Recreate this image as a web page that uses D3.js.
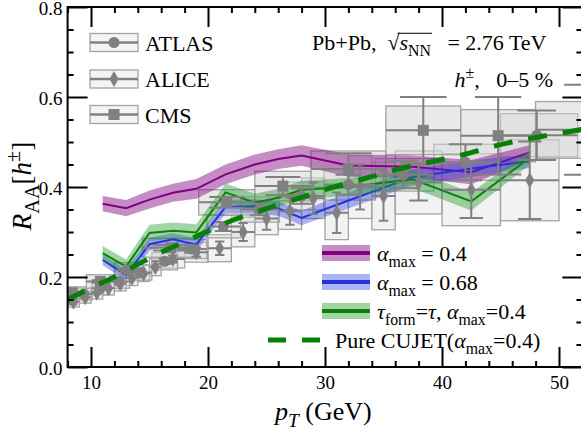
<!DOCTYPE html>
<html><head><meta charset="utf-8">
<script src="https://cdn.jsdelivr.net/npm/d3@7"></script>
<style>
body{margin:0;background:#fff;}
svg{display:block;font-family:"Liberation Serif","Times New Roman",serif;}
</style></head><body><div id="chart"></div>
<script>
// ---------- axes ----------
const xDomain = [8, 52];
const yDomain = [0, 0.8];
const xMajor = [10, 20, 30, 40, 50];
const yMajor = [0, 0.2, 0.4, 0.6, 0.8];

// ---------- ATLAS (circles) ----------
const atlasPt   = [8.2, 9.4, 10.8, 12.4, 14.2, 16.3, 18.6, 21.3, 24.4, 28.0, 32.0, 36.7, 42.0, 48.1];
const atlasLo   = [7.7, 8.8, 10.1, 11.6, 13.3, 15.2, 17.4, 19.9, 22.8, 26.1, 29.9, 34.3, 39.3, 45.0];
const atlasHi   = [8.8, 10.1, 11.6, 13.3, 15.2, 17.4, 19.9, 22.8, 26.1, 29.9, 34.3, 39.3, 45.0, 51.6];
const atlasVal  = [0.150, 0.162, 0.175, 0.190, 0.210, 0.235, 0.262, 0.312, 0.350, 0.380, 0.405, 0.427, 0.455, 0.515];
const atlasStat = [0.003, 0.003, 0.004, 0.004, 0.005, 0.006, 0.008, 0.010, 0.013, 0.017, 0.022, 0.030, 0.040, 0.055];
const atlasSys  = [0.012, 0.013, 0.014, 0.015, 0.017, 0.019, 0.021, 0.025, 0.028, 0.031, 0.034, 0.036, 0.040, 0.048];

// ---------- ALICE (diamonds) ----------
const alicePt   = [8.5, 9.5, 10.5, 11.5, 12.5, 13.5, 14.5, 15.5, 17, 19, 21, 23, 25, 27, 29, 31, 33, 35, 38, 42.5, 47.5];
const aliceLo   = [8, 9, 10, 11, 12, 13, 14, 15, 16, 18, 20, 22, 24, 26, 28, 30, 32, 34, 36, 40, 45];
const aliceHi   = [9, 10, 11, 12, 13, 14, 15, 16, 18, 20, 22, 24, 26, 28, 30, 32, 34, 36, 40, 45, 50];
const aliceVal  = [0.145, 0.155, 0.165, 0.175, 0.185, 0.198, 0.208, 0.222, 0.240, 0.255, 0.264, 0.300, 0.330, 0.346, 0.375, 0.343, 0.400, 0.380, 0.410, 0.394, 0.415];
const aliceStat = [0.003, 0.003, 0.004, 0.004, 0.005, 0.005, 0.006, 0.007, 0.008, 0.010, 0.015, 0.020, 0.025, 0.030, 0.035, 0.045, 0.050, 0.055, 0.040, 0.063, 0.086];
const aliceSys  = [0.012, 0.013, 0.014, 0.015, 0.016, 0.017, 0.018, 0.019, 0.020, 0.022, 0.030, 0.033, 0.036, 0.040, 0.045, 0.060, 0.070, 0.075, 0.070, 0.080, 0.090];

// ---------- CMS (squares) ----------
const cmsPt   = [8.4, 10.8, 13.2, 16.8, 21.6, 26.4, 32.0, 38.4, 44.8, 54.4];
const cmsLo   = [7.2, 9.6, 12.0, 14.4, 19.2, 24.0, 28.8, 35.2, 41.6, 48.0];
const cmsHi   = [9.6, 12.0, 14.4, 19.2, 24.0, 28.8, 35.2, 41.6, 48.0, 60.8];
const cmsVal  = [0.165, 0.190, 0.215, 0.265, 0.366, 0.402, 0.440, 0.526, 0.514, 0.527];
const cmsStat = [0.002, 0.003, 0.004, 0.006, 0.012, 0.020, 0.035, 0.074, 0.086, 0.100];
const cmsSys  = [0.013, 0.015, 0.017, 0.021, 0.028, 0.033, 0.040, 0.054, 0.058, 0.063];

// ---------- theory curves ----------
const thPt      = [11, 13, 15, 17, 19, 21.5, 24, 26, 28, 32, 37.5, 42.5, 47.5];
const purpleVal = [0.363, 0.353, 0.372, 0.387, 0.396, 0.428, 0.450, 0.462, 0.470, 0.448, 0.445, 0.433, 0.477];
const purpleErr = [0.017, 0.018, 0.020, 0.020, 0.022, 0.022, 0.022, 0.022, 0.023, 0.025, 0.025, 0.027, 0.016];
const blueVal   = [0.238, 0.204, 0.273, 0.284, 0.272, 0.356, 0.357, 0.352, 0.331, 0.370, 0.422, 0.441, 0.457];
const blueErr   = [0.012, 0.012, 0.014, 0.014, 0.014, 0.015, 0.016, 0.016, 0.016, 0.018, 0.018, 0.018, 0.015];
const greenVal  = [0.253, 0.223, 0.298, 0.303, 0.299, 0.388, 0.365, 0.376, 0.394, 0.400, 0.417, 0.368, 0.465];
const greenErr  = [0.016, 0.016, 0.018, 0.018, 0.018, 0.020, 0.020, 0.020, 0.020, 0.020, 0.020, 0.020, 0.016];
const cujetPt   = [8, 10, 12, 14, 16, 18, 20, 22, 24, 26, 28, 30, 32, 34, 36, 38, 40, 42, 44, 46, 48, 50, 52];
const cujetVal  = [0.150, 0.176, 0.200, 0.228, 0.255, 0.278, 0.302, 0.325, 0.343, 0.361, 0.377, 0.394, 0.409, 0.423, 0.438, 0.450, 0.461, 0.473, 0.488, 0.500, 0.510, 0.519, 0.528];

// ---------- layout ----------
const W = 581, H = 436;
const M = {left: 67.6, top: 7, right: 582.4, bottom: 367};
const x = d3.scaleLinear().domain(xDomain).range([M.left, M.right]);
const y = d3.scaleLinear().domain(yDomain).range([M.bottom, M.top]);

const svg = d3.select('#chart').append('svg').attr('width', W).attr('height', H);
svg.append('clipPath').attr('id', 'clip').append('rect')
  .attr('x', M.left).attr('y', M.top).attr('width', M.right - M.left).attr('height', M.bottom - M.top);
const plot = svg.append('g').attr('clip-path', 'url(#clip)');

function rich(parent, x0, y0, segs, size, anchor, subScale) {
  const sc = subScale || 0.72;
  const t = parent.append('text').attr('x', x0).attr('y', y0)
    .attr('font-size', size).attr('text-anchor', anchor || 'start').style('white-space', 'pre');
  let cur = 0;
  segs.forEach(s => {
    const shift = s.sub ? size * 0.28 : s.sup ? -size * 0.42 : 0;
    const ts = t.append('tspan').text(s.t);
    if (shift - cur !== 0) ts.attr('dy', shift - cur);
    cur = shift;
    if (s.i) ts.attr('font-style', 'italic');
    if (s.sub || s.sup) ts.attr('font-size', size * sc);
  });
  return t;
}

const rowsOf = (pt, lo, hi, val, st, sy) => pt.map((p, i) => ({p, lo: lo[i], hi: hi[i], v: val[i], s: st[i], e: sy[i]}));
const exps = [
  {name: 'ALICE', rows: rowsOf(alicePt, aliceLo, aliceHi, aliceVal, aliceStat, aliceSys), marker: 'diamond', cap: 0.2, op: 0.3},
  {name: 'ATLAS', rows: rowsOf(atlasPt, atlasLo, atlasHi, atlasVal, atlasStat, atlasSys), marker: 'circle', cap: 0.25, op: 0.35},
  {name: 'CMS', rows: rowsOf(cmsPt, cmsLo, cmsHi, cmsVal, cmsStat, cmsSys), marker: 'square', cap: 0.31, op: 0.5}
];
const GRAY = '#808080';

// systematic boxes
exps.forEach(ex => {
  plot.append('g').selectAll('rect').data(ex.rows).join('rect')
    .attr('x', d => x(d.lo)).attr('width', d => x(d.hi) - x(d.lo))
    .attr('y', d => y(d.v + d.e)).attr('height', d => y(d.v - d.e) - y(d.v + d.e))
    .attr('fill', '#d4d4d4').attr('fill-opacity', ex.op)
    .attr('stroke', '#a3a3a3').attr('stroke-width', 1.3);
});

// theory bands + lines
const theory = [
  {val: purpleVal, err: purpleErr, line: '#800080', band: '#800080', op: 0.45},
  {val: blueVal, err: blueErr, line: '#2034e0', band: '#2b3be0', op: 0.38},
  {val: greenVal, err: greenErr, line: '#0b820b', band: '#22992a', op: 0.42}
];
theory.forEach(th => {
  const rows = thPt.map((p, i) => ({p, v: th.val[i], e: th.err[i]}));
  plot.append('path').datum(rows)
    .attr('d', d3.area().x(d => x(d.p)).y0(d => y(d.v - d.e)).y1(d => y(d.v + d.e)))
    .attr('fill', th.band).attr('fill-opacity', th.op);
  plot.append('path').datum(rows)
    .attr('d', d3.line().x(d => x(d.p)).y(d => y(d.v)))
    .attr('fill', 'none').attr('stroke', th.line).attr('stroke-width', 2);
});

// error bars + markers
function drawMarker(g, type, cx, cy) {
  if (type === 'circle') g.append('circle').attr('cx', cx).attr('cy', cy).attr('r', 5.5).attr('fill', GRAY);
  else if (type === 'square') g.append('rect').attr('x', cx - 5.5).attr('y', cy - 5.5).attr('width', 11).attr('height', 11).attr('fill', GRAY);
  else g.append('path').attr('d', `M${cx},${cy - 8}L${cx + 4.5},${cy}L${cx},${cy + 8}L${cx - 4.5},${cy}Z`).attr('fill', GRAY);
}
exps.forEach(ex => {
  const g = plot.append('g').attr('stroke', GRAY).attr('stroke-width', 2);
  ex.rows.forEach(d => {
    const cw = ex.cap * (x(d.hi) - x(d.lo));
    g.append('line').attr('x1', x(d.lo)).attr('x2', x(d.hi)).attr('y1', y(d.v)).attr('y2', y(d.v));
    g.append('line').attr('x1', x(d.p)).attr('x2', x(d.p)).attr('y1', y(d.v - d.s)).attr('y2', y(d.v + d.s));
    [d.v - d.s, d.v + d.s].forEach(vv => g.append('line').attr('x1', x(d.p) - cw).attr('x2', x(d.p) + cw).attr('y1', y(vv)).attr('y2', y(vv)));
  });
});
exps.forEach(ex => {
  const g = plot.append('g');
  ex.rows.forEach(d => drawMarker(g, ex.marker, x(d.p), y(d.v)));
});

// pure CUJET dashed
plot.append('path').datum(cujetPt.map((p, i) => ({p, v: cujetVal[i]})))
  .attr('d', d3.line().curve(d3.curveMonotoneX).x(d => x(d.p)).y(d => y(d.v)))
  .attr('fill', 'none').attr('stroke', '#078007').attr('stroke-width', 5).attr('stroke-dasharray', '19,16');

// ---------- axes ----------
const axG = svg.append('g');
function styleAxis(g) {
  g.select('.domain').remove();
  g.selectAll('line').attr('stroke', '#000').attr('stroke-width', 2);
  g.selectAll('text').attr('font-size', 19).attr('font-family', '"Liberation Serif", serif').attr('fill', '#000');
}
const xMinor = d3.range(8, 53, 2).filter(v => !xMajor.includes(v));
const yMinor = d3.range(0, 0.8001, 0.05).filter(v => Math.abs(v * 5 - Math.round(v * 5)) > 1e-6);

axG.append('g').attr('transform', `translate(0,${M.bottom})`)
  .call(d3.axisBottom(x).tickValues(xMajor).tickSize(-20).tickPadding(9).tickFormat(d3.format('d'))).call(styleAxis);
axG.append('g').attr('transform', `translate(0,${M.bottom})`)
  .call(d3.axisBottom(x).tickValues(xMinor).tickSize(-6).tickFormat('')).call(styleAxis);
axG.append('g').attr('transform', `translate(0,${M.top})`)
  .call(d3.axisTop(x).tickValues(xMajor).tickSize(-20).tickFormat('')).call(styleAxis);
axG.append('g').attr('transform', `translate(0,${M.top})`)
  .call(d3.axisTop(x).tickValues(xMinor).tickSize(-6).tickFormat('')).call(styleAxis);
axG.append('g').attr('transform', `translate(${M.left},0)`)
  .call(d3.axisLeft(y).tickValues(yMajor).tickSize(-20).tickPadding(5).tickFormat(d3.format('.1f'))).call(styleAxis)
  .selectAll('text').attr('dy', '0.42em');
axG.append('g').attr('transform', `translate(${M.left},0)`)
  .call(d3.axisLeft(y).tickValues(yMinor).tickSize(-6).tickFormat('')).call(styleAxis);
axG.append('g').attr('transform', `translate(${M.right},0)`)
  .call(d3.axisRight(y).tickValues(yMajor).tickSize(-20).tickFormat('')).call(styleAxis);
axG.append('g').attr('transform', `translate(${M.right},0)`)
  .call(d3.axisRight(y).tickValues(yMinor).tickSize(-6).tickFormat('')).call(styleAxis);
svg.append('rect').attr('x', M.left).attr('y', M.top).attr('width', M.right - M.left).attr('height', M.bottom - M.top)
  .attr('fill', 'none').attr('stroke', '#000').attr('stroke-width', 2);

// axis titles
rich(svg, 275, 420, [{t: 'p', i: 1}, {t: 'T', i: 1, sub: 1}, {t: ' (GeV)'}], 26, 'start', 0.75);
const yl = svg.append('g').attr('transform', 'translate(31,186) rotate(-90)');
rich(yl, 0, 0, [{t: 'R', i: 1}, {t: 'AA', sub: 1}, {t: '['}, {t: 'h', i: 1}, {t: '±', sup: 1}, {t: ']'}], 27, 'middle', 0.75);

// header texts
const hdr = rich(svg, 312, 50, [{t: 'Pb+Pb,  '}, {t: '√'}, {t: 's', i: 1}, {t: 'NN', sub: 1}, {t: '   = 2.76 TeV'}], 22);
{
  const n = hdr.node();
  const a = n.getExtentOfChar(8), b = n.getExtentOfChar(11);
  svg.append('line').attr('x1', a.x + a.width * 0.85).attr('x2', b.x + b.width + 1)
    .attr('y1', 50 - 22 * 0.76).attr('y2', 50 - 22 * 0.76).attr('stroke', '#000').attr('stroke-width', 1);
}
rich(svg, 553, 87, [{t: 'h', i: 1}, {t: '±', sup: 1}, {t: ',   0–5 %'}], 22, 'end');

// legend 1 (experiments)
const leg1 = [
  {label: 'ATLAS', marker: 'circle', cy: 42.5},
  {label: 'ALICE', marker: 'diamond', cy: 79},
  {label: 'CMS', marker: 'square', cy: 114.5}
];
leg1.forEach(l => {
  svg.append('rect').attr('x', 90).attr('y', l.cy - 9).attr('width', 48).attr('height', 18)
    .attr('fill', '#ececec').attr('fill-opacity', 0.6).attr('stroke', '#a3a3a3').attr('stroke-width', 1.3);
  svg.append('line').attr('x1', 90).attr('x2', 138).attr('y1', l.cy).attr('y2', l.cy).attr('stroke', GRAY).attr('stroke-width', 2.5);
  drawMarker(svg, l.marker, 114, l.cy);
  rich(svg, 145, l.cy + 8, [{t: l.label}], 22);
});

// legend 2 (theory)
const leg2 = [
  {th: theory[0], cy: 253, segs: [{t: 'α', i: 1}, {t: 'max', sub: 1}, {t: ' = 0.4'}]},
  {th: theory[1], cy: 282, segs: [{t: 'α', i: 1}, {t: 'max', sub: 1}, {t: ' = 0.68'}]},
  {th: theory[2], cy: 311, segs: [{t: 'τ', i: 1}, {t: 'form', sub: 1}, {t: '='}, {t: 'τ', i: 1}, {t: ', '}, {t: 'α', i: 1}, {t: 'max', sub: 1}, {t: '=0.4'}]}
];
leg2.forEach(l => {
  svg.append('rect').attr('x', 322).attr('y', l.cy - 8).attr('width', 48).attr('height', 16)
    .attr('fill', l.th.band).attr('fill-opacity', l.th.op);
  svg.append('line').attr('x1', 322).attr('x2', 370).attr('y1', l.cy).attr('y2', l.cy).attr('stroke', l.th.line).attr('stroke-width', 4);
  rich(svg, 377, l.cy + 7.5, l.segs, 22);
});
svg.append('line').attr('x1', 268).attr('x2', 321).attr('y1', 340).attr('y2', 340)
  .attr('stroke', '#078007').attr('stroke-width', 5).attr('stroke-dasharray', '18,16');
rich(svg, 335, 347.5, [{t: 'Pure CUJET('}, {t: 'α', i: 1}, {t: 'max', sub: 1}, {t: '=0.4)'}], 22);
</script></body></html>
